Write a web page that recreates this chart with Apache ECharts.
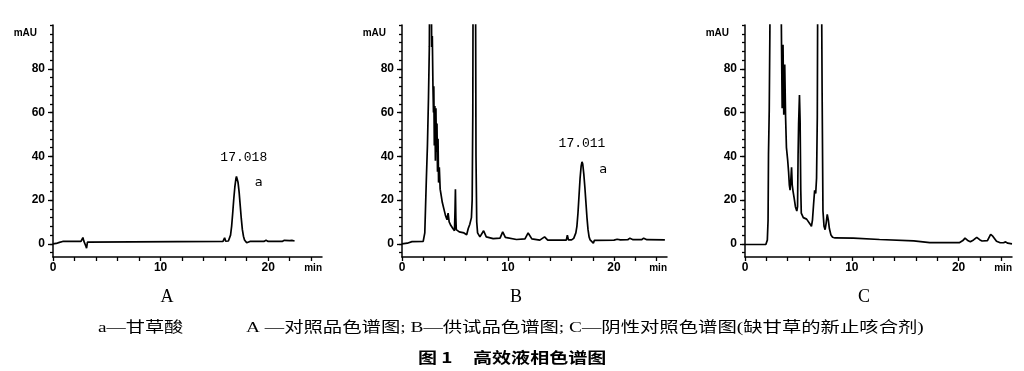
<!DOCTYPE html>
<html><head><meta charset="utf-8">
<script src="https://cdn.jsdelivr.net/npm/echarts@6/dist/echarts.min.js"></script>
<style>html,body{margin:0;padding:0;background:#fff}#c{width:1024px;height:371px}</style>
</head><body><div id="c"></div>
<script>
// ---- Data (retention time in min, absorbance in mAU) ----
const timesA = [0,0.3,0.6,0.9,2.6,2.7,2.78,2.85,2.95,3.05,3.12,3.2,3.3,15.8,15.95,16.05,16.2,16.3,16.4,16.5,16.6,16.7,16.8,16.9,17.0,17.05,17.12,17.2,17.3,17.4,17.5,17.6,17.7,17.8,17.9,18.0,18.1,18.3,19.6,19.8,20.0,21.3,21.5,22.0,22.2,22.45];
const valuesA = [0,0.2,0.7,1.1,1.1,2.0,2.9,1.5,0.8,-1.0,-2.0,0.8,1.1,1.1,2.8,1.2,1.2,1.3,2,4,8,14,20.5,26,29.8,30.8,30.2,28,23.5,17.5,11.5,6.5,3.5,1.8,1.0,0.5,0.9,1.1,1.1,1.6,1.1,1.1,1.6,1.5,1.6,1.3];

const timesB = [0,0.5,0.94,2.0,2.15,2.3,2.4,2.5,2.58,2.65,2.72,2.8,2.86,2.92,2.97,3.0,3.05,3.1,3.15,3.2,3.25,3.3,3.35,3.4,3.45,3.52,3.6,3.7,3.8,3.95,4.1,4.25,4.35,4.45,4.6,4.8,4.95,5.0,5.04,5.08,5.12,5.4,5.85,6.1,6.25,6.4,6.55,6.62,6.68,6.72,6.92,6.98,7.05,7.13,7.35,7.7,7.95,8.6,9.25,9.5,9.75,10.8,11.6,11.9,12.25,13.0,13.45,13.75,15.5,15.6,15.7,16.0,16.2,16.4,16.5,16.6,16.7,16.8,16.9,16.98,17.05,17.15,17.25,17.35,17.45,17.55,17.65,17.75,17.9,18.05,18.15,20.0,20.3,20.6,21.3,21.5,21.8,22.6,22.8,23.1,24.8];
const valuesB = [0,0.3,1.0,1.1,5,30,45,67,90,160,150,90,95,72,60,72,45,63,38,62,42,55,33,48,28,35,25,22,19,16,13,11,14,10,8.5,7,6,15,25,12,6.5,5.5,5,4.2,7,9,12,20,60,150,150,40,10,5,3.2,6,3.2,2.4,2.6,5.5,3,2,2.3,5,2.3,1.7,3.2,1.7,1.7,4,1.8,1.8,2.5,5,8,14,22,30,35.5,37.5,36.5,32,26,19,12,6.5,3.2,1.8,1.0,0.3,1.6,1.7,2.1,1.8,1.9,2.6,1.9,1.9,2.6,1.9,1.8];

const timesC = [0,1.95,2.09,2.16,2.2,2.27,2.33,2.4,3.3,3.42,3.48,3.56,3.63,3.72,3.8,3.88,4.0,4.08,4.15,4.22,4.3,4.36,4.42,4.5,4.6,4.72,4.85,4.92,4.97,5.02,5.1,5.16,5.22,5.27,5.46,5.6,5.77,5.95,6.1,6.22,6.32,6.42,6.52,6.62,6.7,6.77,6.84,7.12,7.22,7.3,7.4,7.5,7.6,7.7,7.8,7.9,8.05,8.2,8.43,10.15,10.2,12.6,15.8,17.3,20.1,20.4,20.6,20.9,21.1,21.4,21.7,22.0,22.2,22.7,23.0,23.2,23.55,23.9,24.2,24.4,24.6,25.0];
const valuesC = [-0.3,-0.3,1.7,10.8,41,61,97,160,160,91,62,91,59,82,58,44,38,33,27,24.5,30,35,27,24,21,17,15,17,40,55,68,56,25,14,12,12.5,11.3,10.5,9,8,11,18,24.5,23,30,58,160,160,70,15,8,6.5,9.5,13.5,11,7,4,3,2.7,2.6,2.3,2.0,1.4,0.6,0.6,1.5,2.6,1.4,1.0,1.8,3.0,1.8,1.3,1.5,4.3,3.5,1.2,0.5,0.5,0.9,0.3,0.0];

const xTickValues = [0,2,4,6,8,10,12,14,16,18,20,22,24];
const xLabelValues = [0,10,20];
const yMinorTickValues = [-4,0,4,8,12,16,20,24,28,32,36,40,44,48,52,56,60,64,68,72,76,80,84,88,92,96,100];
const yLabelValues = [0,20,40,60,80];

const peakLabelA = '17.018';
const peakLabelB = '17.011';
const peakNameA = 'a';
const peakNameB = 'a';
const panelNames = ['A','B','C'];
const yUnit = 'mAU';
const xUnit = 'min';

const zip = (t, v) => t.map((x, i) => [x, v[i]]);

// ---- Layout ----
const grids = [
  {left: 53, top: 25, width: 269, height: 232},
  {left: 402, top: 25, width: 265, height: 232},
  {left: 745, top: 25, width: 267, height: 232}
];
const tickFont = {fontFamily: 'Liberation Sans, Arial, sans-serif', fontWeight: 'bold', fontSize: 12, color: '#000'};

const xAxes = grids.map((g, i) => ({
  type: 'value', gridIndex: i, min: 0, max: 25,
  axisLine: {show: true, onZero: false, lineStyle: {color: '#000', width: 1.5}},
  axisTick: {show: true, length: 4, customValues: xTickValues, lineStyle: {color: '#000', width: 1.3}},
  axisLabel: {show: true, customValues: xLabelValues, margin: 5, ...tickFont},
  splitLine: {show: false}
}));
const yAxes = [];
grids.forEach((g, i) => {
  yAxes.push({
    type: 'value', gridIndex: i, min: -6, max: 100,
    axisLine: {show: true, onZero: false, lineStyle: {color: '#000', width: 1.5}},
    axisTick: {show: true, length: 5, customValues: yLabelValues, lineStyle: {color: '#000', width: 1.3}},
    axisLabel: {show: true, customValues: yLabelValues, margin: 8, ...tickFont},
    splitLine: {show: false}
  });
  yAxes.push({
    type: 'value', gridIndex: i, min: -6, max: 100, position: 'left',
    axisLine: {show: false},
    axisTick: {show: true, length: 3, customValues: yMinorTickValues, lineStyle: {color: '#000', width: 1.3}},
    axisLabel: {show: false},
    splitLine: {show: false}
  });
});

const peakText = {fontFamily: 'Liberation Mono, DejaVu Sans Mono, monospace', fontSize: 13, color: '#000'};
const nameText = {fontFamily: 'DejaVu Sans, sans-serif', fontSize: 13, color: '#000'};
function marks(label, name, tPeak, vLabel, tName, vName) {
  return {
    symbol: 'circle', symbolSize: 0, silent: true,
    label: {show: true, position: 'inside'},
    data: [
      {coord: [tPeak, vLabel], label: {formatter: label, ...peakText}},
      {coord: [tName, vName], label: {formatter: name, ...nameText}}
    ]
  };
}
const lineCommon = {type: 'line', showSymbol: false, symbol: 'none', clip: true, animation: false,
  lineStyle: {color: '#000', width: 1.7}, itemStyle: {color: '#000'}};

const series = [
  {...lineCommon, xAxisIndex: 0, yAxisIndex: 0, data: zip(timesA, valuesA), markPoint: marks(peakLabelA, peakNameA, 17.73, 39.6, 19.13, 28.1)},
  {...lineCommon, xAxisIndex: 1, yAxisIndex: 2, data: zip(timesB, valuesB), markPoint: marks(peakLabelB, peakNameB, 16.98, 46, 18.99, 34)},
  {...lineCommon, xAxisIndex: 2, yAxisIndex: 4, data: zip(timesC, valuesC)}
];

const unitFont = 'bold 10px "Liberation Sans", Arial, sans-serif';
const graphic = [];
grids.forEach((g, i) => {
  graphic.push({type: 'text', x: g.left - 16, y: 33, style: {text: yUnit, font: unitFont, fill: '#000', textAlign: 'right', textVerticalAlign: 'middle'}});
  graphic.push({type: 'text', x: g.left + g.width, y: 268, style: {text: xUnit, font: unitFont, fill: '#000', textAlign: 'right', textVerticalAlign: 'middle'}});
});
const capCenters = [167, 516, 864];
panelNames.forEach((n, i) => {
  graphic.push({type: 'text', x: capCenters[i], y: 297, style: {text: n, font: '18px "Liberation Serif", serif', fill: '#000', textAlign: 'center', textVerticalAlign: 'middle'}});
});
const capFont = '15px "Liberation Serif", "Noto Sans CJK SC", serif';
graphic.push({type: 'text', x: 98, y: 328, scaleX: 1.28, style: {text: 'a—甘草酸', font: capFont, fill: '#000', textAlign: 'left', textVerticalAlign: 'middle'}});
graphic.push({type: 'text', x: 246, y: 328, scaleX: 1.29, style: {text: 'A —对照品色谱图; B—供试品色谱图; C—阴性对照色谱图(缺甘草的新止咳合剂)', font: capFont, fill: '#000', textAlign: 'left', textVerticalAlign: 'middle'}});
const titleFont = 'bold 15px "Noto Sans CJK SC", sans-serif';
graphic.push({type: 'text', x: 418, y: 357, scaleX: 1.27, style: {text: '图 1', font: titleFont, fill: '#000', textAlign: 'left', textVerticalAlign: 'middle'}});
graphic.push({type: 'text', x: 473, y: 357, scaleX: 1.27, style: {text: '高效液相色谱图', font: titleFont, fill: '#000', textAlign: 'left', textVerticalAlign: 'middle'}});

const chart = echarts.init(document.getElementById('c'), null, {renderer: 'canvas'});
chart.setOption({
  backgroundColor: '#fff',
  animation: false,
  grid: grids,
  xAxis: xAxes,
  yAxis: yAxes,
  series: series,
  graphic: graphic
});
</script>
</body></html>
